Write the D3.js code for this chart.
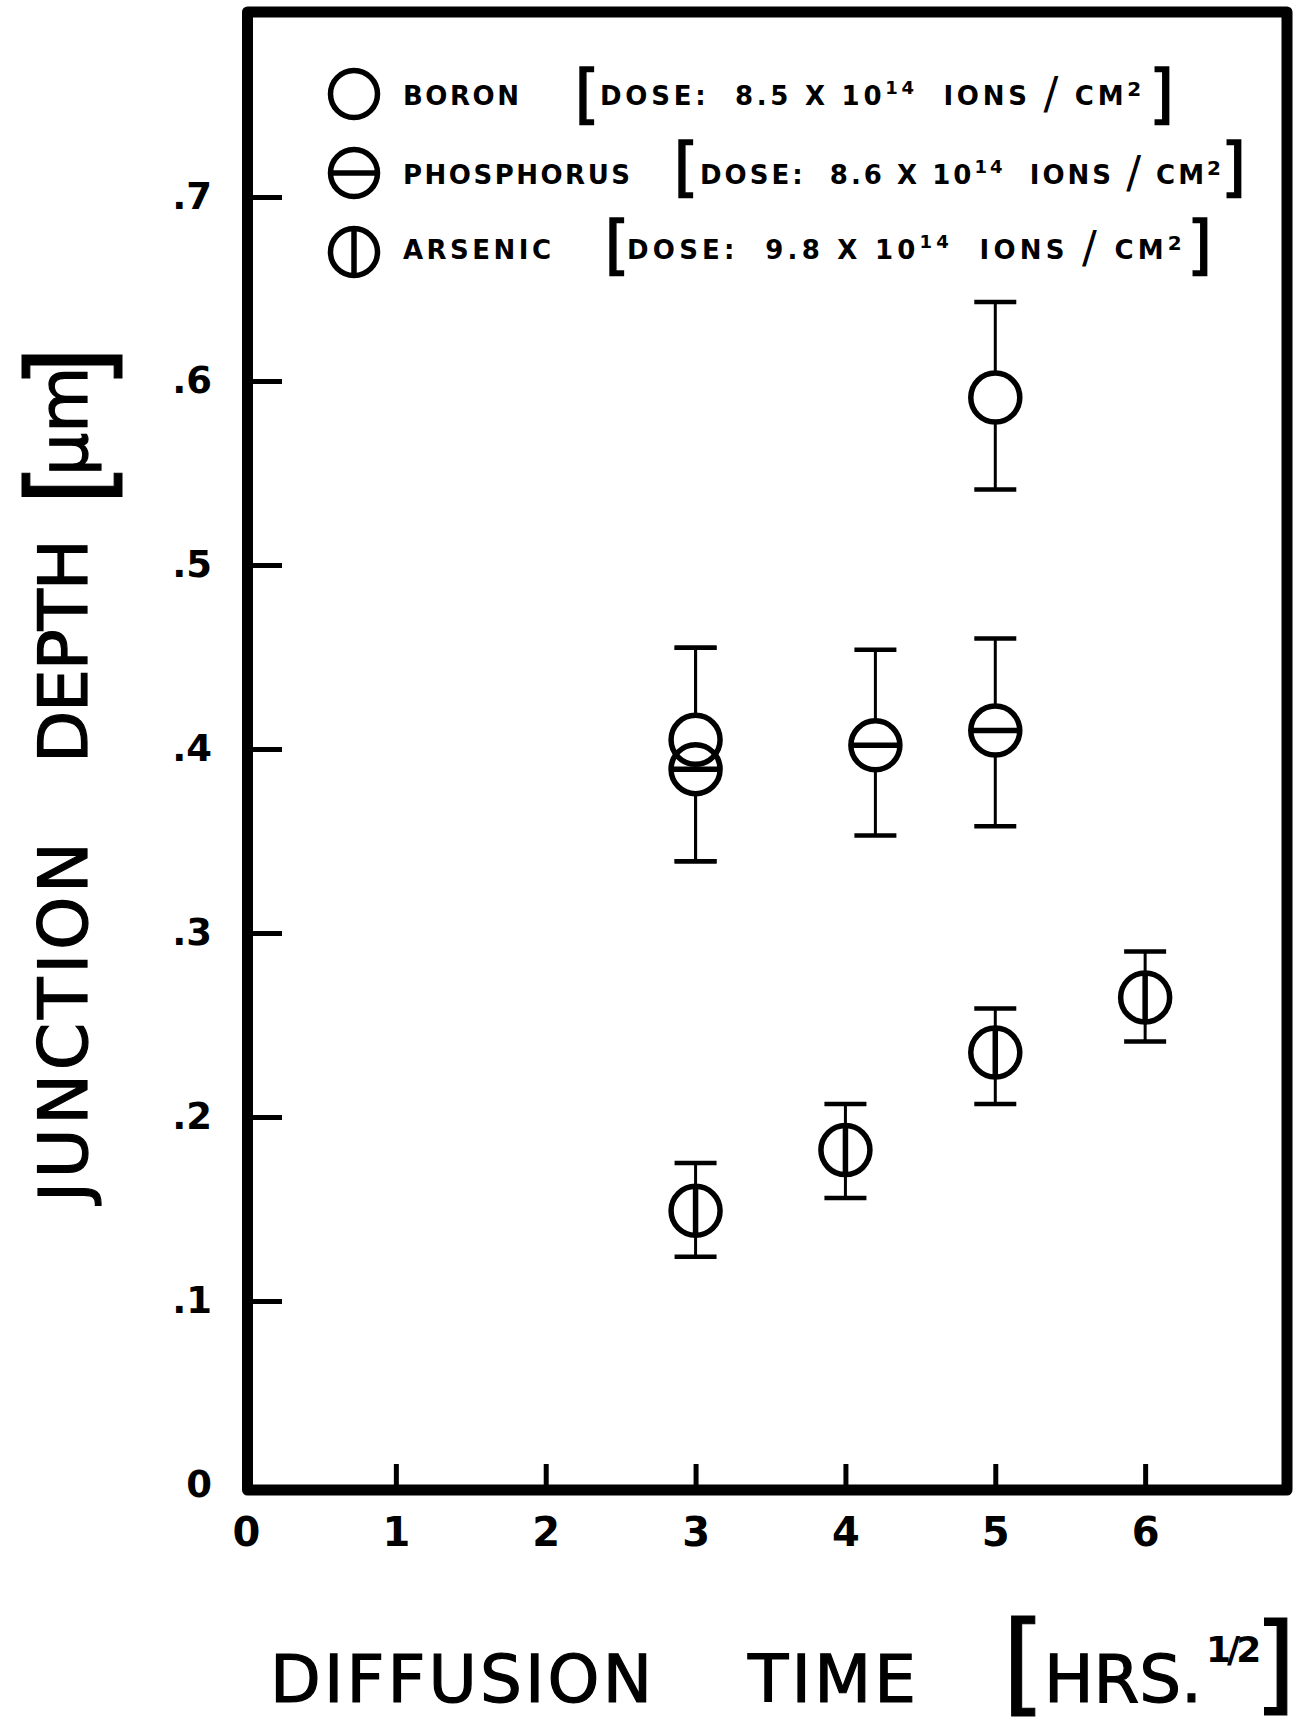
<!DOCTYPE html>
<html>
<head>
<meta charset="utf-8">
<script src="https://cdn.jsdelivr.net/npm/d3@7"></script>
<style>
  body { margin: 0; background: #fff; }
  svg { display: block; }
  text { font-family: "DejaVu Sans", sans-serif; fill: #000; }
</style>
</head>
<body>
<div id="chart"></div>
<script>
// tick values
var xTicks = [0, 1, 2, 3, 4, 5, 6];
var yTicks = [0, 0.1, 0.2, 0.3, 0.4, 0.5, 0.6, 0.7];

// boron
var boronX  = [3, 5];
var boronY  = [0.405, 0.591];
var boronLo = [0.339, 0.541];
var boronHi = [0.455, 0.643];

// phosphorus
var phosX  = [3, 4.2, 5];
var phosY  = [0.389, 0.402, 0.410];
var phosLo = [0.339, 0.353, 0.358];
var phosHi = [0.455, 0.454, 0.460];

// arsenic
var arsX  = [3, 4, 5, 6];
var arsY  = [0.149, 0.182, 0.235, 0.265];
var arsLo = [0.124, 0.156, 0.207, 0.241];
var arsHi = [0.175, 0.207, 0.259, 0.290];

var names  = ["BORON", "PHOSPHORUS", "ARSENIC"];
var doses  = ["8.5", "8.6", "9.8"];
var doseExp = "14";

var width = 1299,
    height = 1733;

var x = d3.scaleLinear().domain([0, 7]).range([246, 1295]);
var y = d3.scaleLinear().domain([0, 0.8]).range([1485, 13]);

function pack(xs, ys, lo, hi, bar) {
    return xs.map(function (d, i) {
        return { x: d, y: ys[i], lo: lo[i], hi: hi[i], bar: bar };
    });
}

var points = pack(boronX, boronY, boronLo, boronHi, "none")
    .concat(pack(phosX, phosY, phosLo, phosHi, "h"))
    .concat(pack(arsX, arsY, arsLo, arsHi, "v"));

var svg = d3.select("#chart").append("svg")
    .attr("width", width)
    .attr("height", height);

// axes (inward ticks)
var xAxis = svg.append("g")
    .attr("transform", "translate(0," + y(0) + ")")
    .call(d3.axisBottom(x).tickValues(xTicks).tickSizeInner(-21).tickSizeOuter(0).tickPadding(33)
        .tickFormat(d3.format("d")));

var yAxis = svg.append("g")
    .attr("transform", "translate(" + x(0) + ",0)")
    .call(d3.axisLeft(y).tickValues(yTicks).tickSizeInner(-36).tickSizeOuter(0).tickPadding(34)
        .tickFormat(function (d) { return d === 0 ? "0" : d3.format(".1f")(d).replace(/^0/, ""); }));

[xAxis, yAxis].forEach(function (g) {
    g.select(".domain").remove();
    g.attr("font-family", null).attr("font-size", null);
    g.selectAll(".tick line").attr("stroke", "#000").attr("stroke-width", 5);
    g.selectAll(".tick text")
        .style("font-family", "'DejaVu Sans', sans-serif")
        .style("font-weight", "bold")
        .attr("fill", "#000");
});
xAxis.selectAll(".tick text").style("font-size", "40px");
yAxis.selectAll(".tick text").style("font-size", "37px");
yAxis.selectAll(".tick").filter(function (d) { return d === 0; }).select("line").remove();

// frame
svg.append("rect")
    .attr("x", x(0) + 1.5)
    .attr("y", 12)
    .attr("width", 1287 - x(0) - 1.5)
    .attr("height", y(0) + 5 - 12)
    .attr("fill", "none")
    .attr("stroke", "#000")
    .attr("stroke-width", 11)
    .attr("stroke-linejoin", "round");

// error bars
var r = 24.5, cap = 21;
var bars = svg.append("g").attr("stroke", "#000");
bars.selectAll("line.err")
    .data(points)
    .enter().append("line")
    .attr("class", "err")
    .attr("x1", function (d) { return x(d.x); })
    .attr("x2", function (d) { return x(d.x); })
    .attr("y1", function (d) { return y(d.hi); })
    .attr("y2", function (d) { return y(d.lo); })
    .attr("stroke-width", 3);
bars.selectAll("line.cap")
    .data(points.reduce(function (a, d) { return a.concat([{ x: d.x, v: d.hi }, { x: d.x, v: d.lo }]); }, []))
    .enter().append("line")
    .attr("class", "cap")
    .attr("x1", function (d) { return x(d.x) - cap; })
    .attr("x2", function (d) { return x(d.x) + cap; })
    .attr("y1", function (d) { return y(d.v); })
    .attr("y2", function (d) { return y(d.v); })
    .attr("stroke-width", 4.5);

// markers: white fills first, then outlines
function symbol(g, cx, cy, rad, bar) {
    g.append("circle")
        .attr("cx", cx).attr("cy", cy).attr("r", rad)
        .attr("fill", "none").attr("stroke", "#000").attr("stroke-width", 5.5);
    if (bar === "h") {
        g.append("line").attr("x1", cx - rad).attr("x2", cx + rad).attr("y1", cy).attr("y2", cy)
            .attr("stroke", "#000").attr("stroke-width", 5.5);
    } else if (bar === "v") {
        g.append("line").attr("x1", cx).attr("x2", cx).attr("y1", cy - rad).attr("y2", cy + rad)
            .attr("stroke", "#000").attr("stroke-width", 5.5);
    }
}

svg.append("g").selectAll("circle")
    .data(points)
    .enter().append("circle")
    .attr("cx", function (d) { return x(d.x); })
    .attr("cy", function (d) { return y(d.y); })
    .attr("r", r)
    .attr("fill", "#fff");

var marks = svg.append("g");
points.forEach(function (d) { symbol(marks, x(d.x), y(d.y), r, d.bar); });

// legend
var legRows = [
    { cy: 94,  base: 105, bTop: 116, open: 574.5, close: 1149, from: 600, to: 1145, labelW: 116 },
    { cy: 173, base: 184, bTop: 189, open: 673.5, close: 1221, from: 700, to: 1224, labelW: 227 },
    { cy: 252, base: 259, bTop: 267, open: 604.5, close: 1187, from: 627, to: 1186, labelW: 148 }
];
var legBars = ["none", "h", "v"];
var leg = svg.append("g");

legRows.forEach(function (row, i) {
    symbol(leg, 354, row.cy, 23.5, legBars[i]);

    leg.append("text")
        .attr("x", 403).attr("y", row.base)
        .attr("font-size", 26).attr("font-weight", "bold")
        .attr("textLength", row.labelW).attr("lengthAdjust", "spacing")
        .text(names[i]);

    leg.append("text").attr("x", row.open).attr("y", row.bTop)
        .attr("font-size", 64.5).attr("stroke", "#000").attr("stroke-width", 1.5).text("[");
    leg.append("text").attr("x", row.close).attr("y", row.bTop)
        .attr("font-size", 64.5).attr("stroke", "#000").attr("stroke-width", 1.5).text("]");

    var t = leg.append("text")
        .attr("x", row.from).attr("y", row.base)
        .attr("font-size", 26).attr("font-weight", "bold")
        .attr("xml:space", "preserve");
    t.append("tspan").text("DOSE:  " + doses[i] + " X 10");
    t.append("tspan").attr("dy", -11).attr("font-size", 18).text(doseExp);
    t.append("tspan").attr("dy", 11).text("  IONS ");
    t.append("tspan").attr("font-size", 44).attr("font-weight", "normal").attr("dy", 4).text("/");
    t.append("tspan").attr("dy", -4).text(" CM");
    t.append("tspan").attr("dy", -9).attr("font-size", 20).text("2");

    var natural = t.node().getComputedTextLength();
    var chars = t.text().length;
    t.attr("letter-spacing", (row.to - row.from - natural) / chars);
});

// x axis title
var xt = svg.append("g");
xt.append("text").attr("x", 270).attr("y", 1702).attr("font-size", 66)
    .attr("stroke", "#000").attr("stroke-width", 1.2)
    .attr("textLength", 382).attr("lengthAdjust", "spacing").text("DIFFUSION");
xt.append("text").attr("x", 748).attr("y", 1702).attr("font-size", 66)
    .attr("stroke", "#000").attr("stroke-width", 1.2)
    .attr("textLength", 168).attr("lengthAdjust", "spacing").text("TIME");
xt.append("text").attr("x", 1002).attr("y", 1701).attr("font-size", 112)
    .attr("stroke", "#000").attr("stroke-width", 1).text("[");
xt.append("text").attr("x", 1044).attr("y", 1702).attr("font-size", 66)
    .attr("stroke", "#000").attr("stroke-width", 1.2)
    .attr("textLength", 158).attr("lengthAdjust", "spacing").text("HRS.");
xt.append("text").attr("x", 1206).attr("y", 1662).attr("font-size", 36)
    .attr("font-weight", "bold").attr("letter-spacing", -4).text("1/2");
xt.append("text").attr("x", 1254).attr("y", 1701).attr("font-size", 108)
    .attr("stroke", "#000").attr("stroke-width", 1).text("]");

// y axis title (rotated, reads upward)
var yt = svg.append("g").attr("transform", "translate(87,0) rotate(-90)");
yt.append("text").attr("x", -1202).attr("y", 0).attr("font-size", 68)
    .attr("stroke", "#000").attr("stroke-width", 1.2)
    .attr("textLength", 360).attr("lengthAdjust", "spacing").text("JUNCTION");
yt.append("text").attr("x", -763).attr("y", 0).attr("font-size", 68)
    .attr("stroke", "#000").attr("stroke-width", 1.2)
    .attr("textLength", 224).attr("lengthAdjust", "spacing").text("DEPTH");
yt.append("text").attr("x", -506).attr("y", 20).attr("font-size", 112)
    .attr("stroke", "#000").attr("stroke-width", 1).text("[");
yt.append("text").attr("x", -476).attr("y", 0).attr("font-size", 68)
    .attr("stroke", "#000").attr("stroke-width", 1.2).text("\u03bcm");
yt.append("text").attr("x", -389).attr("y", 20).attr("font-size", 112)
    .attr("stroke", "#000").attr("stroke-width", 1).text("]");
</script>
</body>
</html>
